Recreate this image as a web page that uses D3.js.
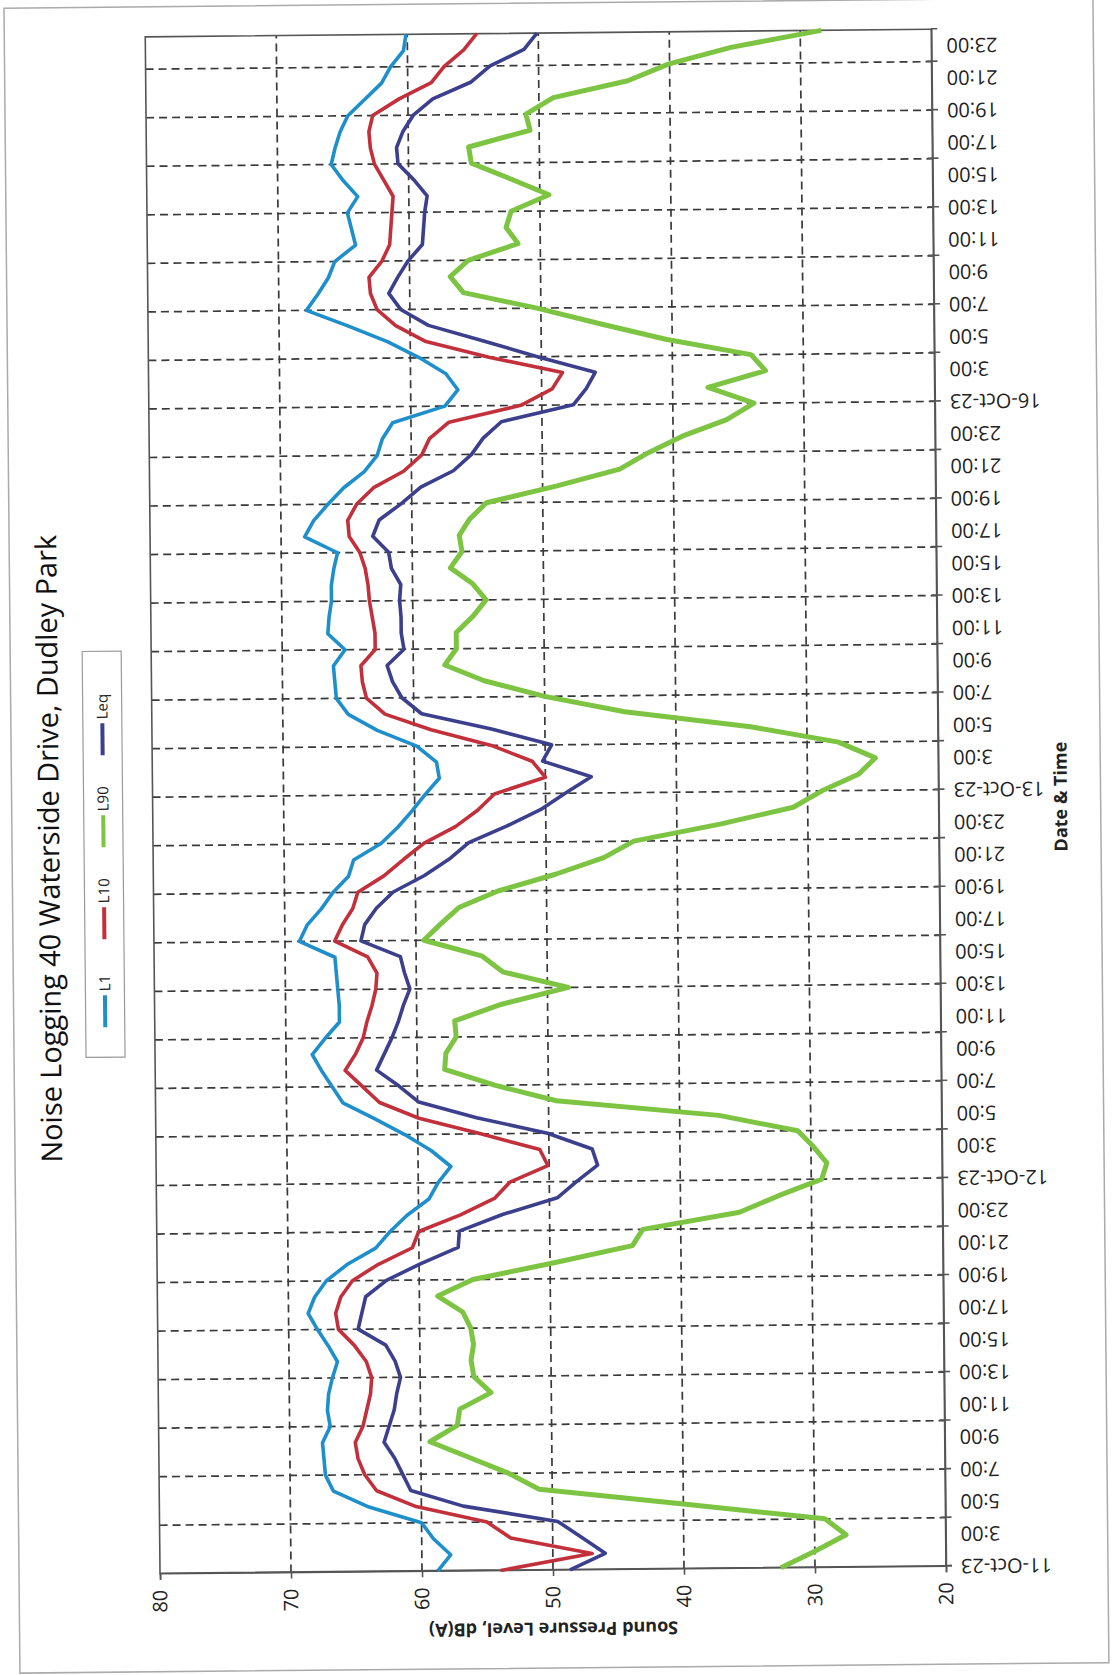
<!DOCTYPE html>
<html><head><meta charset="utf-8">
<script src="https://cdn.jsdelivr.net/npm/d3@7/dist/d3.min.js"></script>
<style>body{margin:0;background:#fff}svg{display:block}</style>
</head><body>
<svg id="chart" width="1113" height="1675"></svg>
<script>
// ---------- data (hourly, index 0 = 11-Oct-23 01:00) ----------
const tickLabels = [
 "11-Oct-23","3:00","5:00","7:00","9:00","11:00","13:00","15:00","17:00","19:00","21:00","23:00",
 "12-Oct-23","3:00","5:00","7:00","9:00","11:00","13:00","15:00","17:00","19:00","21:00","23:00",
 "13-Oct-23","3:00","5:00","7:00","9:00","11:00","13:00","15:00","17:00","19:00","21:00","23:00",
 "16-Oct-23","3:00","5:00","7:00","9:00","11:00","13:00","15:00","17:00","19:00","21:00","23:00"];
const yTicks = [20,30,40,50,60,70,80];
const seriesNames = ["L1","L10","L90","Leq"];
const L1 = [58.8,57.8,59.1,60.0,64.0,66.7,67.3,67.4,67.5,66.9,67.1,67.0,66.7,66.3,67.0,67.8,68.5,68.0,67.1,65.5,63.3,62.2,60.9,59.2,
 58.5,57.5,59.0,61.0,63.3,65.7,66.5,67.3,68.0,67.0,65.9,65.9,66.0,66.1,66.2,68.9,68.3,67.2,66.3,65.1,64.7,62.6,61.3,60.2,
 59.2,58.1,58.3,59.8,62.8,65.0,65.9,66.0,66.1,65.2,66.5,66.4,66.2,66.2,66.0,65.7,68.2,67.5,66.4,65.2,63.6,62.6,62.2,61.4,
 57.4,56.4,57.3,59.3,61.7,64.7,67.9,67.0,66.2,65.7,64.1,64.4,64.7,63.9,65.0,65.9,65.6,65.2,64.6,63.3,62.0,61.3,60.3,60.1];
const L10 = [54.0,47.0,53.2,55.0,60.4,63.4,64.3,64.8,65.0,64.4,64.1,63.8,63.7,64.1,65.0,66.2,66.4,66.0,65.1,63.1,60.5,60.0,56.8,54.2,
 53.0,50.1,50.7,55.2,59.9,62.9,64.2,65.5,64.7,64.1,63.8,63.4,63.1,63.0,63.7,66.2,65.6,64.8,64.4,62.4,60.9,59.3,56.9,55.2,
 53.9,50.0,51.0,54.1,58.7,62.2,63.6,63.9,64.0,62.9,62.9,63.1,63.3,63.4,63.6,64.0,64.8,64.9,64.2,62.9,60.6,59.2,58.6,57.1,
 51.6,49.2,48.4,54.0,58.8,61.1,62.5,63.0,63.1,62.1,61.5,61.4,61.3,61.2,61.9,62.6,62.9,63.0,62.7,60.7,58.2,57.2,55.7,54.7];
const L90 = [32.6,30.0,27.6,29.2,40.0,51.0,53.3,56.3,59.3,57.2,57.0,54.6,55.9,56.1,55.9,56.1,56.7,58.6,55.9,49.6,43.7,42.9,35.5,32.5,
 29.2,28.8,29.8,31.0,37.0,49.4,54.1,57.9,57.8,57.0,57.1,53.5,48.4,53.4,55.0,59.4,58.1,56.7,53.7,49.3,45.6,43.3,36.7,31.1,
 28.9,26.1,24.8,27.6,34.3,43.9,50.0,54.6,57.6,56.7,56.7,55.4,54.4,55.4,57.1,56.2,56.4,55.6,54.3,48.9,44.1,41.9,39.3,35.9,
 33.8,37.3,32.9,34.0,40.5,45.5,50.3,55.9,56.9,55.5,51.7,52.6,52.2,49.3,52.2,55.2,55.4,50.7,51.0,48.9,43.2,40.1,35.3,28.4];
const Leq = [48.7,46.0,47.8,49.6,56.8,60.8,61.4,62.0,62.8,62.4,62.0,61.8,61.5,61.9,62.6,64.7,64.4,64.1,62.5,59.9,57.0,56.9,53.6,49.4,
 47.9,46.3,46.7,50.1,55.5,59.9,61.4,63.1,62.5,61.9,61.4,61.0,60.5,60.9,61.2,64.2,63.9,63.0,61.7,59.3,57.4,55.9,53.0,50.4,
 48.5,46.5,50.2,49.5,54.0,59.4,60.9,61.6,62.0,60.7,60.9,60.9,61.0,60.9,61.6,61.8,63.0,62.5,60.8,59.3,56.8,55.4,54.5,53.1,
 47.6,46.6,45.9,50.3,54.4,58.6,60.7,61.6,60.9,60.1,59.0,58.9,58.8,58.6,59.6,60.8,60.9,60.4,59.6,58.1,55.2,53.7,51.1,50.1];
const seriesColors = ["#1e8fcb","#c1303b","#7dc443","#3b3f8c"];
const seriesWidths = [3.6,3.6,5,3.6];

// ---------- layout (drawn in the un-rotated frame, then turned -90°) ----------
const W = 1675, H = 1113;
const plot = {left:105, right:1642, top:160, bottom:946};
const FONT = "'Open Sans', 'Noto Sans', sans-serif";
const svg = d3.select("#chart");

// slight scan skew of the page
const page = svg.append("g").attr("transform","rotate(-0.55,553,1570)");

page.append("rect").attr("x",19).attr("y",3).attr("width",1089).attr("height",1665)
  .attr("fill","none").attr("stroke","#aaa").attr("stroke-width",1.5);

const g = page.append("g").attr("transform",`translate(0,${W}) rotate(-90)`);

const nCat = L1.length;
const x = d3.scaleLinear().domain([0, nCat-1]).range([plot.left, plot.right]);
const y = d3.scaleLinear().domain([20,80]).range([plot.bottom, plot.top]);

// gridlines
const catGrid = d3.range(3, nCat-1, 3);
g.append("g").selectAll("line").data(catGrid).join("line")
  .attr("x1",d=>x(d)).attr("x2",d=>x(d)).attr("y1",plot.top).attr("y2",plot.bottom)
  .attr("stroke","#3a3a3a").attr("stroke-width",1.7).attr("stroke-dasharray","8,5");
g.append("g").selectAll("line").data(yTicks.filter(v=>v>20&&v<80)).join("line")
  .attr("x1",plot.left).attr("x2",plot.right).attr("y1",d=>y(d)).attr("y2",d=>y(d))
  .attr("stroke","#3a3a3a").attr("stroke-width",1.7).attr("stroke-dasharray","8,5");

// plot border
g.append("rect").attr("x",plot.left).attr("y",plot.top)
  .attr("width",plot.right-plot.left).attr("height",plot.bottom-plot.top)
  .attr("fill","none").attr("stroke","#555").attr("stroke-width",1.6);

// value axis
const yAxis = g.append("g").attr("transform",`translate(${plot.left},0)`)
  .call(d3.axisLeft(y).tickValues(yTicks).tickSize(6).tickPadding(10).tickFormat(d3.format("d")));
yAxis.select(".domain").attr("stroke","#555").attr("stroke-width",1.6);
yAxis.selectAll(".tick line").attr("stroke","#555").attr("stroke-width",1.6);
yAxis.selectAll("text").attr("font-family",FONT).attr("font-size",20).attr("fill","#222");

// category axis
const xAxis = g.append("g").attr("transform",`translate(0,${plot.bottom})`)
  .call(d3.axisBottom(x).tickValues(d3.range(0, nCat, 3)).tickSize(6).tickFormat(""));
xAxis.select(".domain").attr("stroke","#555").attr("stroke-width",1.6);
xAxis.selectAll(".tick line").attr("stroke","#555").attr("stroke-width",1.6).attr("y1",-5);

g.append("g").selectAll("text").data(tickLabels).join("text")
  .attr("transform",(d,i)=>`translate(${x(i*2)},${plot.bottom+15}) rotate(-90)`)
  .attr("text-anchor","end").attr("dy","0.35em")
  .attr("font-family",FONT).attr("font-size",20).attr("fill","#222")
  .text(d=>d);

// series
const seriesData = [L1, L10, L90, Leq];
const line = d3.line().x((d,i)=>x(i)).y(d=>y(d));
g.append("g").selectAll("path").data(seriesData).join("path")
  .attr("d",line).attr("fill","none")
  .attr("stroke",(d,i)=>seriesColors[i]).attr("stroke-width",(d,i)=>seriesWidths[i])
  .attr("stroke-linejoin","round");

// axis titles
g.append("text").attr("transform",`translate(46,${(plot.top+plot.bottom)/2}) rotate(-90)`)
  .attr("text-anchor","middle").attr("dy","0.35em")
  .attr("font-family",FONT).attr("font-weight","bold").attr("font-size",18).attr("fill","#222")
  .text("Sound Pressure Level, dB(A)");
g.append("text").attr("x",(plot.left+plot.right)/2).attr("y",1068).attr("dy","0.35em")
  .attr("text-anchor","middle")
  .attr("font-family",FONT).attr("font-weight","bold").attr("font-size",18).attr("fill","#222")
  .text("Date & Time");

// title
const title = g.append("text").attr("x",831).attr("y",56).attr("dy","0.35em")
  .attr("text-anchor","middle").attr("font-family",FONT).attr("font-size",26).attr("fill","#111")
  .text("Noise Logging 40 Waterside Drive, Dudley Park");
const tw = title.node().getComputedTextLength();
title.attr("font-size", 26*628/tw);

// legend
const leg = g.append("g");
leg.append("rect").attr("x",622).attr("y",91).attr("width",406).attr("height",39)
  .attr("fill","#fff").attr("stroke","#999").attr("stroke-width",1.2);
const legStarts = [652,740,832,924];
seriesNames.forEach((n,i)=>{
  leg.append("line").attr("x1",legStarts[i]).attr("x2",legStarts[i]+32).attr("y1",110.5).attr("y2",110.5)
    .attr("stroke",seriesColors[i]).attr("stroke-width",4);
  leg.append("text").attr("x",legStarts[i]+36).attr("y",110.5).attr("dy","0.35em")
    .attr("font-family",FONT).attr("font-size",15).attr("fill","#222").text(n);
});
</script>
</body></html>
